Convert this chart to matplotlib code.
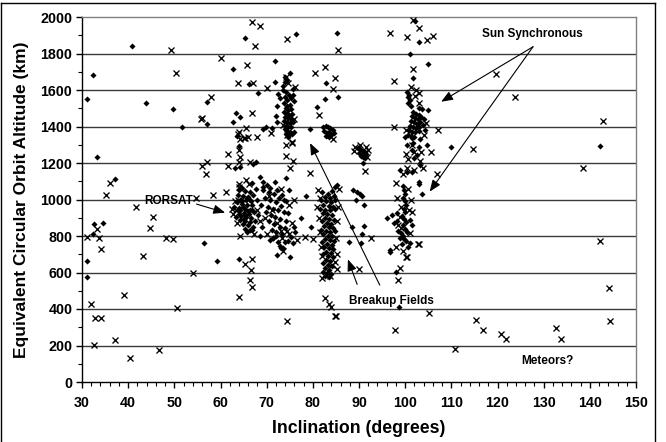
import numpy as np
import matplotlib
matplotlib.use("Agg")
import matplotlib.pyplot as plt
from matplotlib.lines import Line2D
from matplotlib.patches import ArrowStyle

# ---------------- data (inclination deg, altitude km) ----------------
diamonds_sparse = [
    (31.0, 1549), (32.3, 1682), (33.2, 1234), (37.1, 1112), (40.8, 1843), (43.8, 1530),
    (49.8, 1496), (51.7, 1395), (57.1, 1414), (57.0, 1536), (62.6, 1715), (63.3, 1475),
    (64.2, 1454), (62.8, 1423), (65.2, 1883), (66.2, 1631), (63.6, 1348), (63.1, 1170),
    (64.2, 1180), (67.1, 1194), (67.7, 1204), (69.9, 1399), (69.3, 1386), (71.8, 1759),
    (71.8, 1645), (72.4, 1576), (72.9, 1554), (72.2, 1512), (72.0, 1457), (72.2, 1426),
    (71.1, 1390), (76.3, 1905), (74.1, 1119), (74.9, 1053), (75.9, 1368), (79.4, 1386),
    (80.8, 1508), (82.6, 1549), (82.8, 1640), (68.1, 1581), (63.9, 1295),
    (85.3, 1910), (85.5, 1560), (102.1, 1977), (102.9, 1861), (101.0, 1797), (105.0, 1740),
    (101.8, 1668), (110.0, 1289), (142.1, 1295), (103.6, 1030), (98.1, 604), (98.7, 409),
    (96.8, 721), (96.8, 711), (88.4, 851), (91.1, 857), (90.7, 811), (87.8, 765),
    (90.4, 760), (88.6, 1052), (89.6, 1039), (90.2, 1028), (90.7, 1021), (89.3, 997),
    (91.1, 971), (85.2, 1079), (84.8, 1068),
    (32.7, 864), (34.6, 869), (32.4, 812), (31.0, 663), (31.0, 575), (56.5, 763),
    (59.3, 663), (63.9, 672), (72.2, 696), (75.0, 683), (73.0, 733),
]

diamonds_rorsat = [
    (64.0, 1050), (65.2, 1045), (66.3, 1040), (63.8, 1025), (64.9, 1020), (66.0, 1015),
    (67.0, 1025), (64.4, 1000), (65.5, 995), (66.6, 990), (63.6, 985), (64.7, 975),
    (65.8, 970), (66.9, 968), (64.1, 955), (65.2, 950), (66.3, 945), (63.9, 935),
    (65.0, 928), (66.1, 922), (67.2, 930), (64.5, 910), (65.6, 905), (66.7, 900),
    (64.2, 890), (65.3, 882), (66.4, 878), (64.8, 865), (65.9, 858), (67.0, 850),
    (65.3, 840), (66.4, 832), (65.8, 820), (67.5, 880), (68.1, 915), (62.9, 960),
    (63.3, 905), (68.0, 1000), (67.6, 1060), (66.8, 1090), (68.7, 970), (69.3, 1050),
    (64.6, 1062), (65.7, 1010), (64.3, 940), (66.9, 945), (65.1, 895),
    (64.9, 960), (65.9, 935), (64.6, 990), (65.4, 915), (66.2, 1002), (64.0, 918),
]

diamonds_mid = [
    (68.6, 1125), (69.3, 1097), (70.0, 1079), (70.7, 1061), (71.8, 1097), (72.2, 1052),
    (73.3, 1025), (69.2, 1068), (70.4, 1040), (71.5, 1030), (72.6, 1010), (73.8, 1000),
    (69.6, 1010), (70.8, 995), (72.0, 985), (73.0, 965), (74.2, 990), (70.2, 960),
    (71.3, 950), (72.5, 940), (73.7, 930), (74.7, 924), (71.8, 906), (69.8, 930),
    (70.9, 915), (72.9, 895), (74.1, 880), (70.4, 880), (71.6, 865), (72.8, 850),
    (73.9, 845), (71.1, 833), (72.1, 820), (73.4, 810), (72.5, 769), (74.0, 765),
    (74.6, 775), (75.2, 795), (75.6, 760), (71.4, 790), (70.7, 776), (71.3, 787),
    (72.0, 800), (72.8, 745), (73.6, 735), (75.9, 850), (76.2, 820), (69.0, 850),
    (68.5, 800), (66.8, 833), (77.5, 900), (78.6, 1020), (79.5, 850),
]

diamonds_75 = [
    (73.6, 1600), (74.2, 1590), (74.8, 1575), (73.9, 1560), (74.5, 1545), (75.2, 1555),
    (73.8, 1530), (74.4, 1515), (75.0, 1520), (74.1, 1500), (74.7, 1490), (75.3, 1495),
    (73.7, 1478), (74.3, 1470), (74.9, 1465), (75.5, 1470), (74.0, 1452), (74.6, 1445),
    (75.2, 1440), (73.8, 1430), (74.4, 1425), (75.0, 1418), (75.6, 1425), (74.1, 1405),
    (74.7, 1398), (75.3, 1395), (73.9, 1385), (74.5, 1378), (75.1, 1372), (74.2, 1360),
    (74.8, 1352), (75.4, 1360), (74.6, 1340), (76.0, 1540), (75.8, 1575), (73.5, 1620),
    (74.0, 1645), (75.7, 1605), (74.0, 1673), (75.0, 1691), (74.3, 1655),
]

diamonds_83 = [
    (82.3, 1395), (82.8, 1405), (83.3, 1400), (83.8, 1390), (84.3, 1380), (82.5, 1375),
    (83.0, 1365), (83.6, 1370), (84.0, 1355), (82.8, 1350), (83.4, 1345), (84.6, 1362),
    (82.0, 1040), (83.2, 1030), (84.1, 1045), (82.6, 1015), (83.7, 1010), (84.6, 1020),
    (81.8, 995), (82.9, 990), (83.9, 985), (84.8, 1000), (82.3, 970), (83.4, 965),
    (84.3, 960), (81.6, 950), (82.7, 945), (83.8, 940), (84.9, 950), (82.1, 925),
    (83.1, 920), (84.1, 915), (82.6, 900), (83.6, 895), (84.5, 890), (81.9, 880),
    (83.0, 872), (84.0, 868), (82.4, 855), (83.4, 848), (84.4, 845), (81.7, 835),
    (82.8, 828), (83.8, 822), (84.7, 830), (82.2, 810), (83.2, 802), (84.2, 798),
    (82.7, 785), (83.7, 778), (84.6, 772), (82.0, 765), (83.1, 758), (84.1, 752),
    (82.5, 740), (83.5, 732), (84.4, 728), (82.9, 715), (83.9, 708), (82.3, 700),
    (83.3, 690), (84.3, 685), (82.8, 670), (83.8, 662), (82.2, 650), (83.2, 642),
    (84.1, 635), (82.6, 622), (83.6, 615), (82.1, 605), (83.1, 598), (84.0, 592),
    (82.7, 580), (83.5, 575),
]

diamonds_90_100 = [
    (89.8, 1280), (90.3, 1275), (90.8, 1268), (91.3, 1260), (90.0, 1255), (90.6, 1250),
    (91.1, 1245), (91.6, 1252), (90.4, 1238), (90.9, 1232), (91.4, 1228), (90.9, 1198),
    (100.5, 1590), (100.8, 1575), (100.6, 1560), (101.0, 1545), (100.7, 1530), (101.2, 1515),
    (102.9, 1499), (103.7, 1496), (105.0, 1490), (101.8, 1480), (102.4, 1470), (103.0, 1462),
    (101.5, 1455), (102.1, 1445), (102.8, 1440), (103.5, 1450), (101.3, 1430), (101.9, 1422),
    (102.6, 1415), (103.2, 1425), (101.0, 1405), (101.6, 1398), (102.3, 1392), (103.0, 1400),
    (103.8, 1410), (100.8, 1380), (101.5, 1372), (102.2, 1368), (102.9, 1378), (100.6, 1355),
    (101.3, 1350), (102.0, 1345), (100.0, 1344), (101.4, 1335), (103.3, 1330), (101.4, 1271),
    (103.1, 1289), (104.8, 1299), (100.5, 1300), (101.8, 1310), (104.2, 1380), (104.0, 1440),
    (103.2, 1189), (98.9, 1162), (100.3, 1152), (101.4, 1149), (102.9, 1097), (103.1, 1085),
    (101.9, 1230), (102.5, 1245),
    (99.5, 1075), (99.8, 1050), (100.0, 1030), (99.6, 1010), (99.9, 990), (100.2, 970),
    (99.7, 950), (100.0, 930), (99.4, 910), (99.8, 895), (100.1, 875), (99.6, 860),
    (99.9, 840), (100.3, 820), (99.5, 800), (99.8, 785), (100.2, 770), (99.4, 755),
    (101.0, 887), (101.4, 860), (96.0, 896), (97.1, 915), (98.2, 924), (98.5, 830),
    (99.0, 815), (98.8, 790), (100.6, 740), (101.1, 760), (98.3, 880), (97.5, 870),
]

crosses_sparse = [
    (35.3, 1025), (36.1, 1092), (41.8, 960), (45.3, 902), (49.2, 1817), (50.3, 1691),
    (54.7, 1010), (58.4, 1025), (55.8, 1439), (56.1, 1445), (57.9, 1563), (56.1, 1185),
    (57.0, 1204), (56.9, 1138), (60.0, 1773), (63.8, 1636), (66.8, 1974), (68.6, 1952),
    (67.5, 1841), (65.7, 1735), (67.1, 1640), (66.8, 1472), (65.5, 1392), (63.8, 1359),
    (64.2, 1330), (65.3, 1335), (66.0, 1344), (68.0, 1344), (61.7, 1247), (61.6, 1185),
    (64.1, 1271), (64.2, 1234), (64.1, 1204), (66.4, 1204), (70.9, 1366), (70.0, 1609),
    (74.5, 1880), (74.9, 970), (79.4, 1143), (80.5, 1691), (81.4, 1463), (82.6, 1724),
    (63.9, 1368), (65.0, 1339),
    (85.5, 1819), (84.8, 1668), (84.3, 1605), (96.7, 1910), (100.3, 1888), (101.6, 1983),
    (103.0, 1937), (104.8, 1874), (106.1, 1898), (101.8, 1713), (97.6, 1649), (119.6, 1686),
    (123.7, 1563), (142.8, 1432), (138.5, 1174), (114.8, 1277), (107.1, 1381), (97.5, 1399),
    (105.7, 1258), (106.8, 1138), (142.3, 773), (144.1, 517), (144.4, 334), (105.1, 380),
    (97.9, 285), (115.4, 338), (116.9, 285), (120.8, 261), (121.9, 237), (110.7, 179),
    (132.6, 294), (133.7, 237), (92.7, 791), (90.1, 617), (100.1, 687), (102.8, 754),
    (98.9, 623), (98.5, 559), (85.0, 363), (84.4, 1334),
    (31.1, 796), (33.3, 836), (33.6, 787), (34.1, 730), (31.9, 429), (32.8, 352),
    (34.1, 352), (32.6, 204), (37.1, 232), (40.4, 132), (39.1, 477), (43.3, 692),
    (44.7, 842), (48.3, 789), (49.8, 785), (46.7, 177), (50.5, 405), (54.0, 599),
    (64.2, 800), (63.9, 466), (65.4, 645), (66.5, 614), (66.4, 559), (66.9, 672),
    (66.9, 520), (74.5, 334), (78.3, 796), (80.0, 782), (73.0, 827), (74.9, 812),
]

crosses_clusters = [
    (74.2, 1670), (76.1, 1615), (74.7, 1636), (74.3, 1353), (75.5, 1310), (74.2, 1299),
    (75.4, 1313), (73.5, 1410), (76.0, 1440), (74.2, 1239), (75.8, 1209), (75.0, 1170),
    (83.4, 1353),
    (102.1, 1569), (103.1, 1585), (102.9, 1530), (104.6, 1417), (104.1, 1353), (102.3, 1600),
    (101.2, 1615), (100.2, 1380), (100.7, 1222), (103.2, 1211), (101.5, 1300), (102.0, 1260),
    (103.5, 1262), (100.2, 1250), (98.0, 1092), (100.5, 1175), (102.0, 1160), (99.5, 1140),
    (103.8, 1170),
    (101.0, 814), (102.9, 754), (100.3, 687), (98.5, 860), (99.2, 845), (98.8, 905),
    (100.8, 940), (101.2, 1000), (99.0, 960), (98.3, 1010), (100.7, 1060), (101.5, 930),
    (99.6, 720), (98.0, 740),
    (89.1, 1289), (90.2, 1299), (91.5, 1290), (92.0, 1270), (91.4, 1158), (88.9, 1265),
    (91.8, 1235),
    (81.9, 568), (83.8, 580), (82.6, 459), (83.4, 426), (84.0, 409), (84.8, 362),
    (84.1, 641), (81.3, 900), (85.3, 880), (81.0, 960), (85.5, 960), (81.6, 820),
    (85.0, 790), (81.5, 1010), (85.2, 700), (81.8, 740), (85.6, 1060), (81.2, 1050),
    (84.9, 660), (82.0, 690), (85.2, 620),
    (62.5, 950), (63.2, 990), (62.8, 920), (64.1, 1070), (65.5, 1105), (66.1, 1085),
    (67.9, 945), (68.5, 880), (63.5, 870), (67.3, 810), (61.2, 1040), (63.7, 997),
    (63.4, 941), (64.0, 1084),
    (71.1, 942), (75.4, 869), (70.5, 1020), (73.0, 1060), (76.0, 1000), (69.6, 900),
    (72.3, 870), (74.4, 830), (73.3, 790), (76.5, 780), (70.0, 810), (73.5, 720),
]

x_ticks = [30, 40, 50, 60, 70, 80, 90, 100, 110, 120, 130, 140, 150]
y_ticks = [0, 200, 400, 600, 800, 1000, 1200, 1400, 1600, 1800, 2000]

# ---------------- figure ----------------
W, H = 666, 442
fig = plt.figure(figsize=(W / 100, H / 100), dpi=100)
plt.rcParams['font.family'] = ['Liberation Sans', 'DejaVu Sans']
ax = fig.add_axes([82 / W, 1 - 382 / H, (636 - 82) / W, (382 - 17) / H])

ax.set_xlim(30, 150)
ax.set_ylim(0, 2000)

for yv in y_ticks[1:-1]:
    ax.axhline(yv, color='#3a3a3a', lw=1.0, zorder=1)

d = np.array(diamonds_sparse + diamonds_rorsat + diamonds_mid + diamonds_75 +
             diamonds_83 + diamonds_90_100)
c = np.array(crosses_sparse + crosses_clusters)

ax.plot(c[:, 0], c[:, 1], ls='none', marker='x', ms=4.0, mew=0.95, color='black', zorder=3)
ax.plot(d[:, 0], d[:, 1], ls='none', marker='D', ms=3.1, mew=0, color='black', zorder=4)

ax.set_xticks(x_ticks)
ax.set_yticks(y_ticks)
ax.set_xticks(np.arange(30, 151, 2), minor=True)
ax.set_yticks(np.arange(0, 2001, 100), minor=True)
ax.tick_params(axis='both', which='major', direction='out', length=4, width=1,
               labelsize=10.3, colors='black')
ax.tick_params(axis='both', which='minor', direction='out', length=2.8, width=0.8)
ax.tick_params(axis='x', pad=6)
ax.tick_params(axis='y', pad=3)
for lab in ax.get_xticklabels() + ax.get_yticklabels():
    lab.set_fontweight('bold')

ax.spines['left'].set_color('black')
ax.spines['bottom'].set_color('black')
ax.spines['top'].set_color('#808080')
ax.spines['right'].set_color('#808080')
for s in ax.spines.values():
    s.set_linewidth(1.0)

ax.set_xlabel('Inclination (degrees)', fontsize=12.7, fontweight='bold', labelpad=7)
ax.set_ylabel('Equivalent Circular Orbit Altitude (km)', fontsize=12.5, fontweight='bold',
              labelpad=8)

arrow = ArrowStyle('-|>', head_length=0.7, head_width=0.28)
aprops = dict(arrowstyle=arrow, mutation_scale=10, lw=0.8, color='black',
              shrinkA=0, shrinkB=0)
tkw = dict(fontsize=8.5, fontweight='bold', ha='center', va='center', zorder=6)

ax.text(127.6, 1905, 'Sun Synchronous', **tkw)
ax.annotate('', xy=(107.8, 1536), xytext=(127.7, 1837), arrowprops=aprops, zorder=6)
ax.annotate('', xy=(105.3, 1043), xytext=(127.7, 1837), arrowprops=aprops, zorder=6)

ax.text(48.7, 993, 'RORSAT', **tkw)
ax.annotate('', xy=(61.0, 928), xytext=(54.8, 975), arrowprops=aprops, zorder=6)

ax.text(97.0, 445, 'Breakup Fields', **tkw)
ax.annotate('', xy=(79.4, 1309), xytext=(94.5, 531), arrowprops=aprops, zorder=6)
ax.annotate('', xy=(87.6, 672), xytext=(89.6, 535), arrowprops=aprops, zorder=6)

ax.text(130.9, 115, 'Meteors?', **tkw)

# figure border
tr = fig.transFigure
def px(x, y):
    return x / W, 1 - y / H
for (x0, y0), (x1, y1) in [((0.5, 2.5), (655, 2.5)), ((655, 2.5), (655, 442)),
                           ((0.5, 2.5), (0.5, 442))]:
    a, b = px(x0, y0)
    cc, dd = px(x1, y1)
    fig.add_artist(Line2D([a, cc], [b, dd], transform=tr, color='black', lw=1.0))

fig.savefig('out.png', dpi=100)
